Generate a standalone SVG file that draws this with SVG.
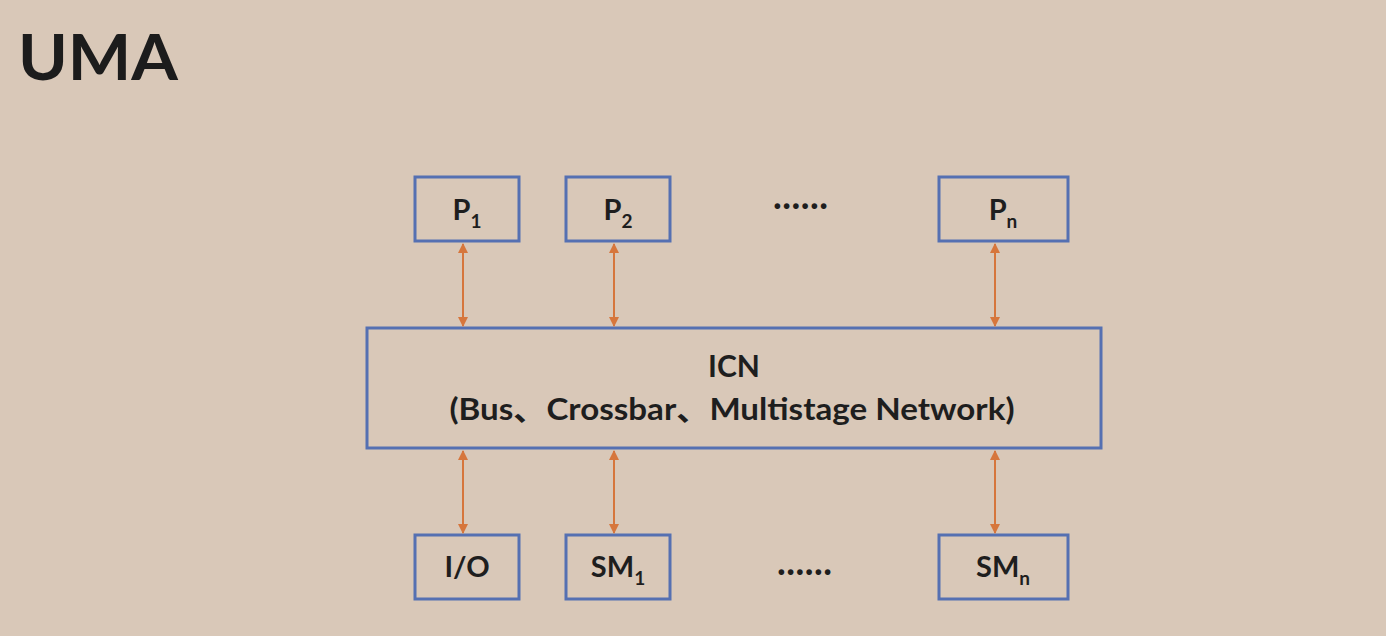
<svg xmlns="http://www.w3.org/2000/svg" width="1386" height="636" viewBox="0 0 1386 636">
<style>
.bg{fill:#d9c8b8}
.box{fill:none;stroke:#5570b2;stroke-width:3}
.t{font-family:Lato,"Noto Sans CJK SC",sans-serif;font-weight:bold;fill:#1e1e1e;text-anchor:middle}
.lbl{font-size:29px}
.sub{font-size:19px}
.dots{font-size:30px;letter-spacing:1px}
.conn line{stroke:#d6763c;stroke-width:2;marker-start:url(#ah);marker-end:url(#ah)}
</style>
<defs>
<marker id="ah" viewBox="0 0 10 10" refX="9" refY="5" markerWidth="5" markerHeight="5" orient="auto-start-reverse" markerUnits="strokeWidth">
<path d="M0,0 L10,5 L0,10 z" fill="#d6763c"/>
</marker>
</defs>
<rect class="bg" x="0" y="0" width="1386" height="636"/>
<text x="18" y="80" font-family="Lato,sans-serif" font-weight="bold" font-size="63" fill="#1c1c1c" textLength="160" lengthAdjust="spacingAndGlyphs">UMA</text>

<g id="P1"><rect class="box" x="415" y="177" width="104" height="64"/><text class="t lbl" x="467" y="220">P<tspan class="sub" dy="8">1</tspan></text></g>
<g id="P2"><rect class="box" x="566" y="177" width="104" height="64"/><text class="t lbl" x="618" y="220">P<tspan class="sub" dy="8">2</tspan></text></g>
<g id="dots1"><text class="t dots" x="801" y="215">······</text></g>
<g id="Pn"><rect class="box" x="939" y="177" width="129" height="64"/><text class="t lbl" x="1003" y="220">P<tspan class="sub" dy="8">n</tspan></text></g>

<g id="ICN"><rect class="box" x="367" y="328" width="734" height="120"/>
<text class="t" font-size="30" x="734" y="377">ICN</text>
<text class="t" font-size="30" x="732" y="420" textLength="565" lengthAdjust="spacingAndGlyphs">(Bus、Crossbar、Multistage Network)</text></g>

<g id="IO"><rect class="box" x="415" y="535" width="104" height="64"/><text class="t lbl" x="467" y="577">I/O</text></g>
<g id="SM1"><rect class="box" x="566" y="535" width="104" height="64"/><text class="t lbl" x="618" y="577">SM<tspan class="sub" dy="8">1</tspan></text></g>
<g id="dots2"><text class="t dots" x="805" y="581">······</text></g>
<g id="SMn"><rect class="box" x="939" y="535" width="129" height="64"/><text class="t lbl" x="1003" y="577">SM<tspan class="sub" dy="8">n</tspan></text></g>

<g id="connectors" class="conn">
<line x1="463" y1="244" x2="463" y2="326"/>
<line x1="614" y1="244" x2="614" y2="326"/>
<line x1="995" y1="244" x2="995" y2="326"/>
<line x1="463" y1="451" x2="463" y2="533"/>
<line x1="614" y1="451" x2="614" y2="533"/>
<line x1="995" y1="451" x2="995" y2="533"/>
</g>
</svg>
